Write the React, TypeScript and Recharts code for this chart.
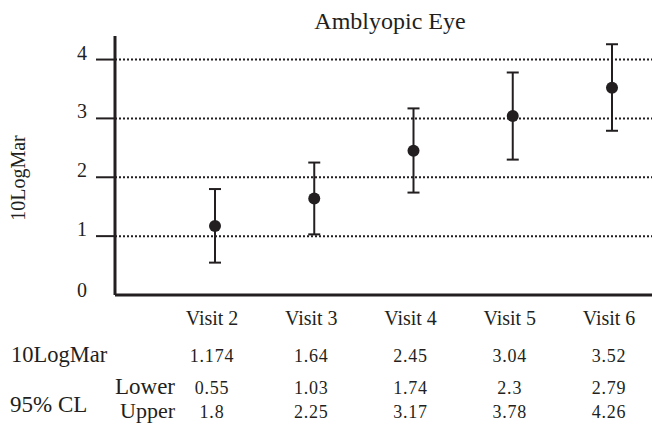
import React from 'react';
import { ComposedChart, Line, ErrorBar, XAxis, YAxis, CartesianGrid } from 'recharts';

const visits = ['Visit 2', 'Visit 3', 'Visit 4', 'Visit 5', 'Visit 6'];
const logMar = [1.174, 1.64, 2.45, 3.04, 3.52];
const lowerCL = [0.55, 1.03, 1.74, 2.3, 2.79];
const upperCL = [1.8, 2.25, 3.17, 3.78, 4.26];
const yTicks = [0, 1, 2, 3, 4];
const gridValues = [1, 2, 3, 4];

const INK = '#231f20';
const FONT = '"Liberation Serif", "Times New Roman", serif';

// error offsets for the ErrorBar are taken from the table values
const data = visits.map((visit, i) => ({
  visit,
  value: logMar[i],
  ci: [logMar[i] - lowerCL[i], upperCL[i] - logMar[i]],
}));

const YTick = ({ x, y, payload }: any) => (
  <g>
    {payload.value !== 0 && (
      <line x1={x - 19} y1={y} x2={x} y2={y} stroke={INK} strokeWidth={2} />
    )}
    <text
      x={x - 28}
      y={payload.value === 0 ? y + 2 : y}
      textAnchor="end"
      fontFamily={FONT}
      fontSize={20}
      fill={INK}
    >
      {payload.value}
    </text>
  </g>
);

// visit name plus the table columns underneath
const VisitTick = ({ x, y, index }: any) => (
  <g fontFamily={FONT} fill={INK}>
    <text x={x - 3} y={y + 30} textAnchor="middle" fontSize={20}>
      {visits[index]}
    </text>
    <text x={x - 3} y={y + 67} textAnchor="middle" fontSize={18} letterSpacing={0.8}>
      {String(logMar[index])}
    </text>
    <text x={x - 3} y={y + 99} textAnchor="middle" fontSize={18} letterSpacing={0.8}>
      {String(lowerCL[index])}
    </text>
    <text x={x - 3} y={y + 123} textAnchor="middle" fontSize={18} letterSpacing={0.8}>
      {String(upperCL[index])}
    </text>
  </g>
);

export default function App() {
  return (
    <div style={{ position: 'absolute', left: 0, top: 0, width: 652, height: 430, background: '#fff' }}>
      <ComposedChart
        width={652}
        height={430}
        data={data}
        margin={{ top: 36, right: 0, left: 0, bottom: 5 }}
      >
        <CartesianGrid
          vertical={false}
          horizontalValues={gridValues}
          stroke={INK}
          strokeWidth={2}
          strokeDasharray="2 2"
        />
        <XAxis
          dataKey="visit"
          type="category"
          scale="point"
          padding={{ left: 100, right: 40 }}
          height={130}
          tickLine={false}
          tickSize={0}
          tickMargin={0}
          axisLine={{ stroke: INK, strokeWidth: 3 }}
          tick={<VisitTick />}
          interval={0}
        />
        <YAxis
          domain={[0, 4.4]}
          ticks={yTicks}
          width={115}
          tickLine={false}
          tickSize={0}
          tickMargin={0}
          axisLine={{ stroke: INK, strokeWidth: 3 }}
          tick={<YTick />}
          allowDataOverflow
        />
        <Line
          dataKey="value"
          stroke="none"
          dot={{ r: 6, fill: INK, stroke: 'none' }}
          activeDot={false}
          isAnimationActive={false}
        >
          <ErrorBar dataKey="ci" direction="y" width={6} strokeWidth={2} stroke={INK} />
        </Line>
      </ComposedChart>
      <svg
        width={652}
        height={430}
        style={{ position: 'absolute', left: 0, top: 0, pointerEvents: 'none' }}
      >
        <g fontFamily={FONT} fill={INK}>
          <text x={390} y={29} textAnchor="middle" fontSize={24}>
            Amblyopic Eye
          </text>
          <text transform="translate(25,178) rotate(-90)" textAnchor="middle" fontSize={20}>
            10LogMar
          </text>
          <text x={11} y={362} fontSize={22.5}>
            10LogMar
          </text>
          <text x={10} y={412} fontSize={23}>
            95% CL
          </text>
          <text x={175} y={394} textAnchor="end" fontSize={23}>
            Lower
          </text>
          <text x={175} y={418} textAnchor="end" fontSize={22}>
            Upper
          </text>
        </g>
      </svg>
    </div>
  );
}
